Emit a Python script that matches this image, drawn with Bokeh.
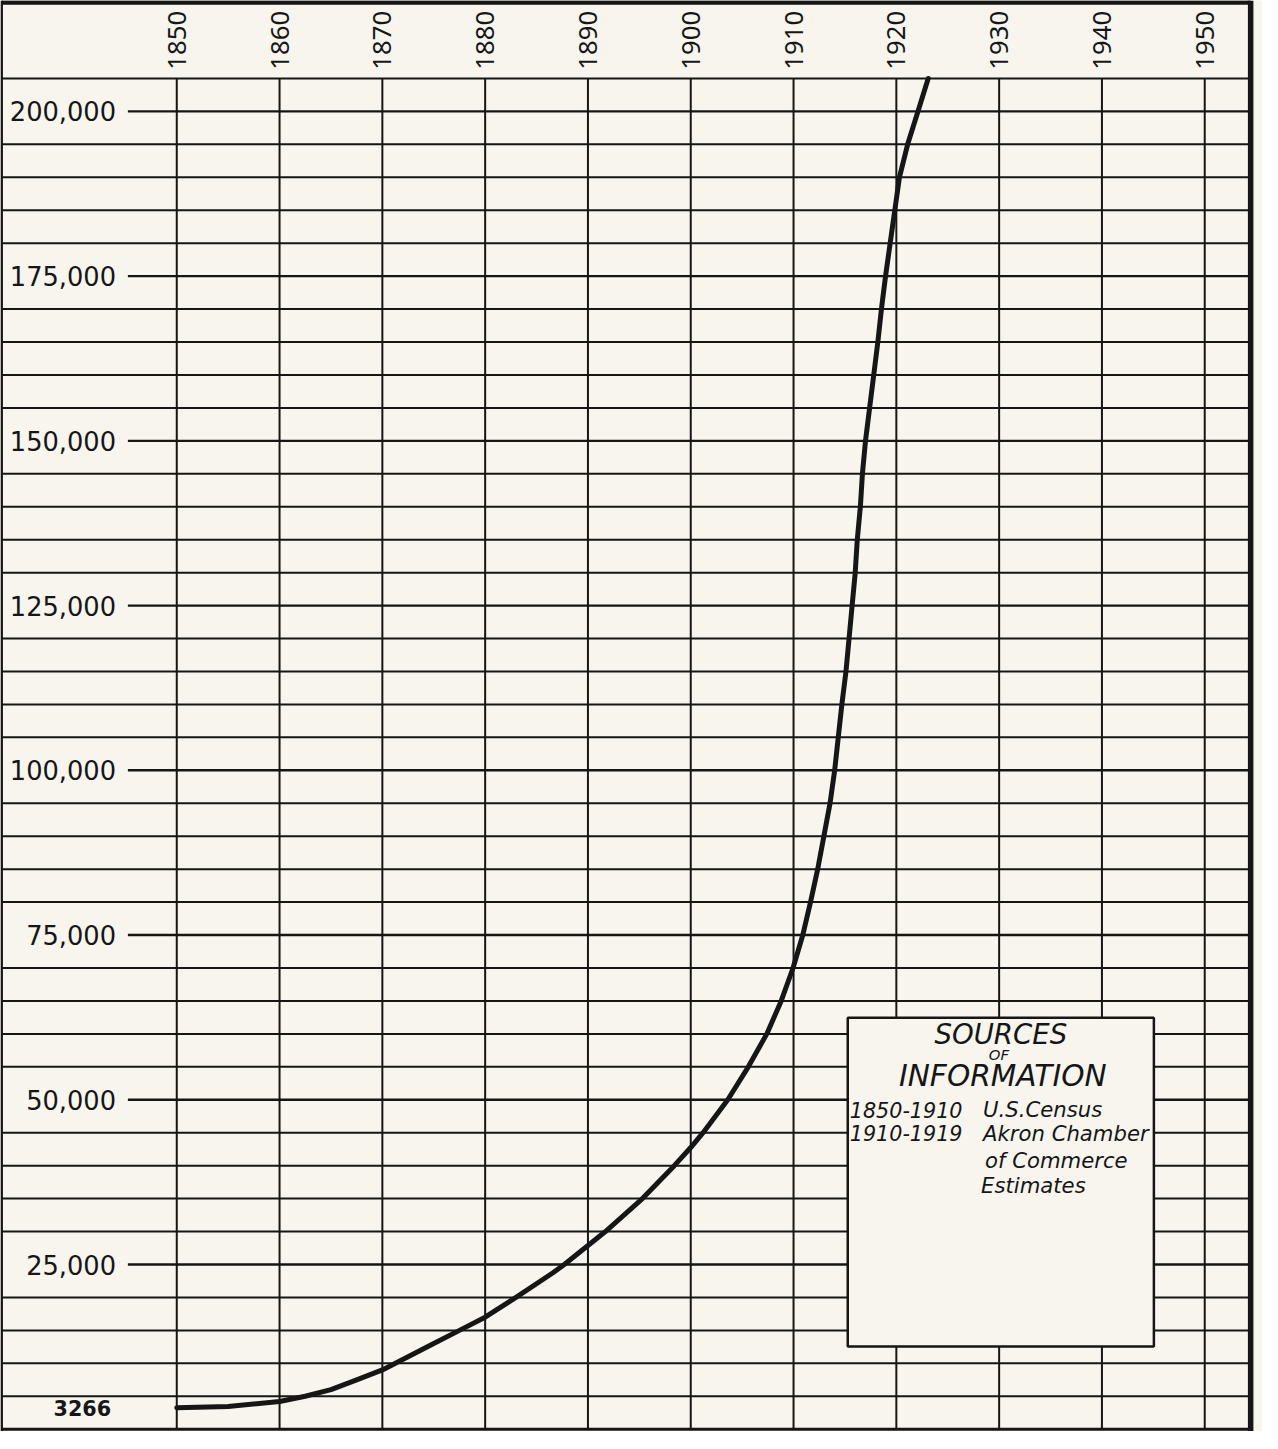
import math
from bokeh.plotting import figure
from bokeh.models import Range1d
from bokeh.core.properties import value
from bokeh.embed import file_html
from bokeh.resources import INLINE

# ---------------- data ----------------
decades = [1850, 1860, 1870, 1880, 1890, 1900, 1910, 1920, 1930, 1940, 1950]
decade_labels = ["1850", "1860", "1870", "1880", "1890", "1900",
                 "1910", "1920", "1930", "1940", "1950"]

y_major = [200000, 175000, 150000, 125000, 100000, 75000, 50000, 25000]
y_major_labels = ["200,000", "175,000", "150,000", "125,000",
                  "100,000", "75,000", "50,000", "25,000"]
base_value = [3266]
base_label = ["3266"]
grid_step = 5000
grid_top = 205000

# population curve (year, population)
curve_year = [1850, 1855, 1860, 1862.5, 1865, 1867.5, 1870, 1872.5, 1875,
              1877.5, 1880, 1883, 1886.6, 1887.7,
              1891.7, 1895.3, 1898.4, 1900, 1901.2, 1903.6, 1905.6, 1907.4,
              1908.8, 1909.95, 1910.9, 1911.65, 1912.35, 1912.95, 1913.55,
              1914.0, 1914.35, 1914.7, 1915.1, 1915.4, 1915.7, 1916.0,
              1916.2, 1916.5, 1916.7, 1917.0, 1917.4, 1917.8, 1918.2,
              1918.55, 1918.95, 1919.4, 1919.85, 1920.3, 1921.1, 1922.1, 1923.1]
curve_pop = [3266, 3450, 4200, 5000, 6000, 7500, 9000, 11000, 13000,
             15000, 17000, 20000, 23750, 25000,
             30000, 35000, 40000, 42750, 45000, 50000, 55000, 60000,
             65000, 70000, 75000, 80000, 85000, 90000, 95000,
             100000, 105000, 110000, 115000, 120000, 125000, 130000,
             135000, 140000, 145000, 150000, 155000, 160000, 165000,
             170000, 175000, 180000, 185000, 190000, 195000, 200000, 205000]

legend_title = ["SOURCES", "OF", "INFORMATION"]
legend_periods = ["1850-1910", "1910-1919"]
legend_sources = ["U.S.Census", "Akron Chamber", "of Commerce", "Estimates"]

# ---------------- layout ----------------
W, H = 1262, 1431
REF_W, REF_H = 1278, 1449
FS = W / REF_W
PX_1850, PX_1950 = 178.5, 1219.5
PX_Y0, PX_PER_1000 = 1446.7, 6.672
PPY = (PX_1950 - PX_1850) / 100.0


def xd(px):
    return 1850 + (px - PX_1850) / PPY


def yd(py):
    return (PX_Y0 - py) / PX_PER_1000 * 1000.0


def fs(px):
    return f"{px * FS:.1f}px"


PAPER = "#f7f5ee"
INK = "#161616"
LETTER = value("DejaVu Sans")

p = figure(width=W, height=H, output_backend="svg", toolbar_location=None,
           x_range=Range1d(xd(0), xd(REF_W)), y_range=Range1d(yd(REF_H), yd(0)),
           x_axis_location=None, y_axis_location=None, min_border=0,
           background_fill_color=PAPER, border_fill_color=PAPER,
           outline_line_color=None)
p.grid.visible = False

right_x = xd(1266)
left_x = xd(1.2)

# minor horizontal rules (every 5,000, full width)
y_minor = [v for v in range(grid_step, grid_top + 1, grid_step) if v not in y_major]
p.segment(x0=left_x, y0=y_minor, x1=right_x, y1=y_minor, line_color=INK, line_width=2)
# labelled rules start after the label
p.segment(x0=xd(129), y0=y_major, x1=right_x, y1=y_major, line_color=INK, line_width=2.4)
# decade verticals
p.segment(x0=decades, y0=0, x1=decades, y1=grid_top, line_color=INK, line_width=2)
# bottom rule (zero)
p.segment(x0=left_x, y0=0, x1=right_x, y1=0, line_color=INK, line_width=3)
# frame borders
p.segment(x0=left_x, y0=yd(2), x1=right_x, y1=yd(2), line_color=INK, line_width=4.5)
p.segment(x0=left_x, y0=yd(REF_H), x1=left_x, y1=yd(0), line_color=INK, line_width=2.5)
p.segment(x0=right_x, y0=yd(REF_H), x1=right_x, y1=yd(0), line_color=INK, line_width=5.5)

# year labels (vertical, reading upward)
p.text(x=decades, y=yd(70), text=decade_labels, angle=math.pi / 2,
       text_align="left", text_baseline="middle", text_color=INK,
       text_font=value("Noto Sans"), text_font_size=fs(26))

# population labels
p.text(x=xd(117), y=y_major, text=y_major_labels, text_align="right",
       text_baseline="middle", text_color=INK,
       text_font=LETTER, text_font_size=fs(26))
p.text(x=xd(112), y=base_value, text=base_label, text_align="right",
       text_baseline="middle", text_color=INK, text_font_style="bold",
       text_font=LETTER, text_font_size=fs(21))

# population curve
p.line(curve_year, curve_pop, line_color=INK, line_width=5,
       line_join="round", line_cap="round")

# sources box
p.quad(left=xd(858), right=xd(1168), top=yd(1030), bottom=yd(1363),
       fill_color=PAPER, line_color=INK, line_width=2.5)
title_x = [xd(1013), xd(1011), xd(1015)]
title_y = [yd(1047), yd(1067), yd(1089)]
title_size = [28, 15, 30]
for tx, ty, tt, ts in zip(title_x, title_y, legend_title, title_size):
    p.text(x=[tx], y=[ty], text=[tt], text_align="center", text_baseline="middle",
           text_color=INK, text_font=LETTER, text_font_style="italic",
           text_font_size=fs(ts))
p.text(x=xd(860), y=[yd(1123), yd(1147)], text=legend_periods,
       text_align="left", text_baseline="middle", text_color=INK,
       text_font=LETTER, text_font_style="italic", text_font_size=fs(21))
p.text(x=[xd(995), xd(995), xd(997), xd(993)],
       y=[yd(1123), yd(1147), yd(1175), yd(1200)], text=legend_sources,
       text_align="left", text_baseline="middle", text_color=INK,
       text_font=LETTER, text_font_style="italic", text_font_size=fs(21.5))

open("out.html", "w").write(file_html(p, INLINE))
